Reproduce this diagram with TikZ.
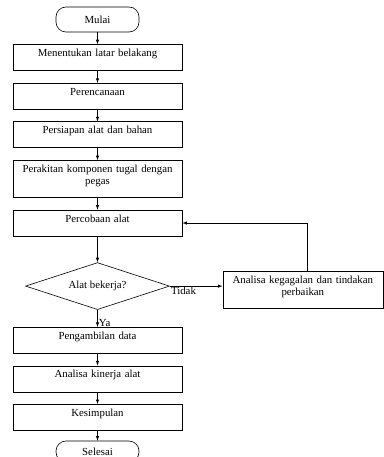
\documentclass[tikz,border=0pt]{standalone}
\usepackage{fontspec}
\setmainfont{Liberation Serif}
\usetikzlibrary{positioning,shapes.geometric,calc}
\tikzset{block/.style={draw,line width=0.6pt,text width=160pt,minimum width=169pt,minimum height=26pt,inner ysep=3pt,text height=9pt,text depth=11pt,align=center},
         term/.style={draw,line width=0.6pt,rounded corners=10pt,minimum width=83pt,minimum height=25pt},
         decision/.style={draw,diamond,line width=0.6pt,aspect=3,inner sep=0pt,minimum width=144pt,minimum height=47pt},
         lbl/.style={inner sep=1pt}
}
\tikzstyle{arrow} = [line width=0.6pt,-latex]

\begin{document}
\begin{tikzpicture}[font=\rmfamily\fontsize{10.8}{12.5}\selectfont, node distance=12pt]
\useasboundingbox (0,0) rectangle (383pt,-457pt);

\node[term] (mulai) at (97.5pt,-19.5pt) {Mulai};
\node[block,below=of mulai] (latar) {Menentukan latar belakang};
\node[block,below=of latar] (rencana) {Perencanaan};
\node[block,below=of rencana] (persiapan) {Persiapan alat dan bahan};
\node[block,below=of persiapan,text depth=22pt] (rakit) {Perakitan komponen tugal dengan\\pegas};
\node[block,below=of rakit] (coba) {Percobaan alat};
\node[decision,below=26pt of coba] (kerja) {Alat bekerja?};
\node[block,below=17pt of kerja] (data) {Pengambilan data};
\node[block,below=of data] (kinerja) {Analisa kinerja alat};
\node[block,below=of kinerja] (simpul) {Kesimpulan};
\node[term,below=10pt of simpul,minimum height=21pt] (selesai) {Selesai};
\node[block,text width=150pt,minimum width=160pt,text depth=22pt,anchor=north west] (gagal) at (222.5pt,-271pt) {Analisa kegagalan dan tindakan\\perbaikan};
\coordinate (balik) at ($(gagal.north)+(4pt,0)$);

\draw[arrow] (mulai)--(latar);
\draw[arrow] (latar)--(rencana);
\draw[arrow] (rencana)--(persiapan);
\draw[arrow] (persiapan)--(rakit);
\draw[arrow] (rakit)--(coba);
\draw[arrow] (coba)--(kerja);
\draw[arrow] (kerja)--node[lbl,right,pos=0.75] (ya) {Ya}(data);
\draw[arrow] (kerja.east)--node[lbl,anchor=north west,pos=0] (tidak) {Tidak}(kerja.east -| gagal.west);
\draw[arrow] (balik) |- (coba.east);
\draw[arrow] (data)--(kinerja);
\draw[arrow] (kinerja)--(simpul);
\draw[arrow] (simpul)--(selesai);

\end{tikzpicture}
\end{document}
